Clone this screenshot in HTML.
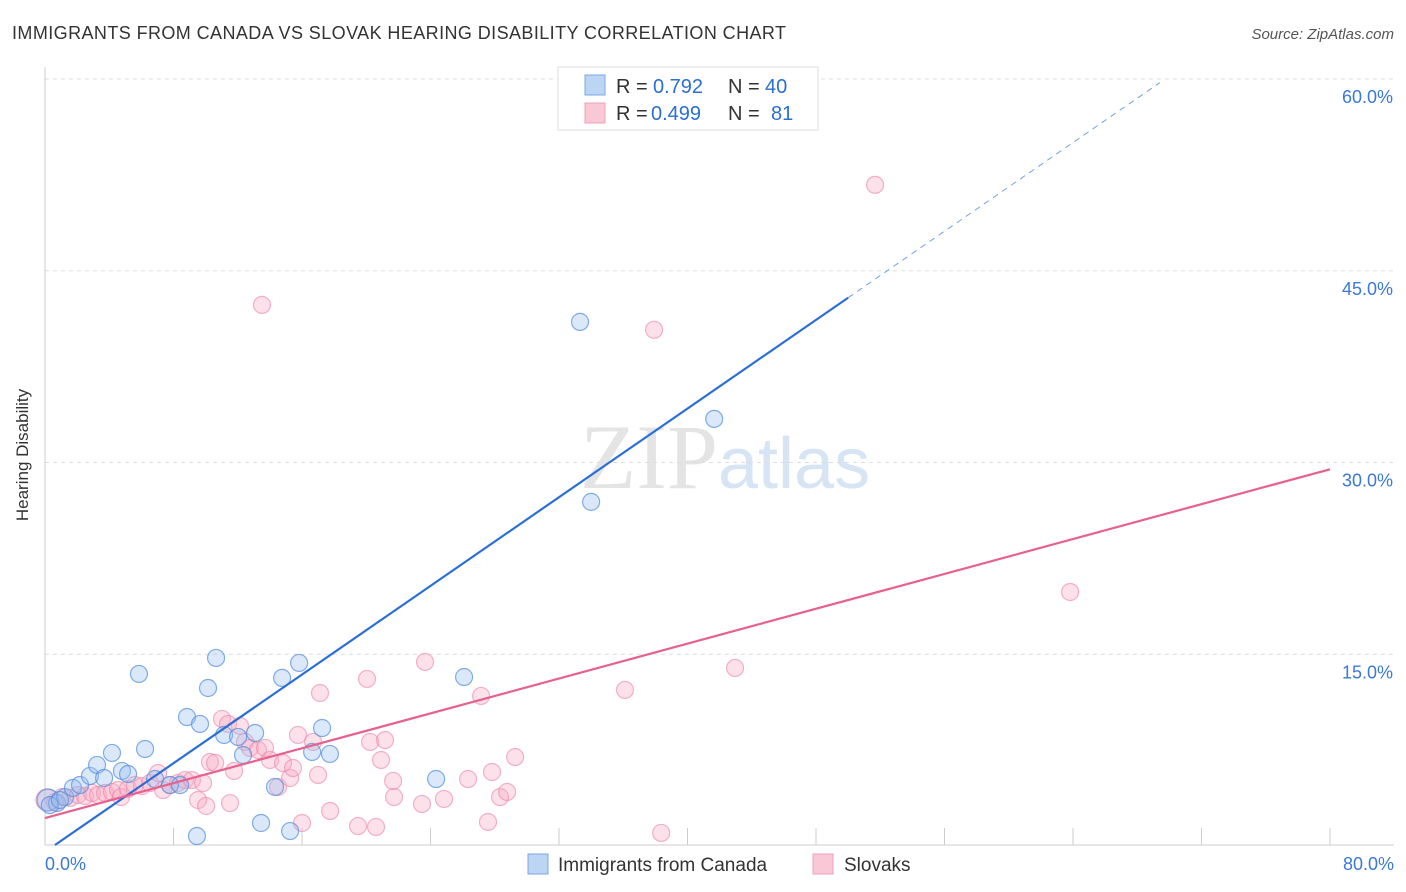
<!DOCTYPE html>
<html><head><meta charset="utf-8"><style>
body{margin:0;background:#fff;font-family:"Liberation Sans",sans-serif;}
svg{display:block}
</style></head><body>
<svg id="chart" width="1406" height="892">
<text x="12" y="39" font-size="18" fill="#333" textLength="774">IMMIGRANTS FROM CANADA VS SLOVAK HEARING DISABILITY CORRELATION CHART</text>
<text x="1394" y="39" font-size="15" fill="#555" text-anchor="end" font-style="italic">Source: ZipAtlas.com</text>
<text x="718" y="488" font-size="92" fill="#e4e4e4" text-anchor="end" font-family="Liberation Serif,serif">ZIP</text>
<text x="718" y="488" font-size="72" fill="#d6e4f4">atlas</text>
<g id="grid"></g>
<line x1="45" y1="67" x2="45" y2="845" stroke="#ccc"/>
<line x1="45" y1="845" x2="1394" y2="845" stroke="#ccc"/>
<text x="28" y="455" font-size="17" fill="#333" text-anchor="middle" transform="rotate(-90 28 455)">Hearing Disability</text>
<g id="pink"></g><g id="blue"></g><g id="lines"></g>
<g>
<rect x="558" y="67" width="260" height="63" fill="#fff" stroke="#ddd"/>
<rect x="585" y="75" width="20" height="20" fill="#bcd5f5" stroke="#7aa8e6"/>
<rect x="585" y="103" width="20" height="20" fill="#f9c8d6" stroke="#f0a0b8"/>
<text x="616" y="93" font-size="20" fill="#333">R =</text>
<text x="653" y="93" font-size="20" fill="#2a6fd6">0.792</text>
<text x="728" y="93" font-size="20" fill="#333">N =</text>
<text x="765" y="93" font-size="20" fill="#2a6fd6">40</text>
<text x="616" y="120" font-size="20" fill="#333">R =</text>
<text x="651" y="120" font-size="20" fill="#2a6fd6">0.499</text>
<text x="728" y="120" font-size="20" fill="#333">N =</text>
<text x="771" y="120" font-size="20" fill="#2a6fd6">81</text>
</g>
<g>
<rect x="528" y="854" width="20" height="20" fill="#bcd5f5" stroke="#7aa8e6"/>
<text x="558" y="871" font-size="19" fill="#333">Immigrants from Canada</text>
<rect x="813" y="854" width="20" height="20" fill="#f9c8d6" stroke="#f0a0b8"/>
<text x="844" y="871" font-size="19" fill="#333">Slovaks</text>
</g>
<text x="45" y="870" font-size="18" fill="#3b78d8">0.0%</text>
<text x="1394" y="870" font-size="18" fill="#3b78d8" text-anchor="end">80.0%</text>
</svg>
<script>
const yTicks=[15,30,45,60];
const yTickLabels=["15.0%","30.0%","45.0%","60.0%"];
const blueX=[0.19,0.75,1.25,1.74,2.18,2.8,3.24,3.68,4.17,4.79,5.17,5.85,6.23,6.85,7.78,8.41,8.84,9.46,9.65,10.15,10.65,11.15,12.02,12.33,13.08,13.45,14.32,14.76,15.26,15.82,16.63,17.25,17.74,24.35,26.09,33.31,34.0,41.66,0.3,0.93];
const blueY=[3.6,3.36,3.83,4.54,4.77,5.48,6.34,5.32,7.28,5.87,5.63,13.46,7.59,5.24,4.77,4.77,10.09,0.78,9.55,12.36,14.71,8.69,8.53,7.12,8.84,1.8,4.62,13.15,1.17,14.32,7.36,9.23,7.2,5.24,13.22,41.0,26.92,33.41,3.2,3.6];
const pinkX=[0.12,0.62,1.06,1.56,2.05,2.49,2.93,3.3,3.74,4.17,4.55,4.73,5.17,5.6,6.04,6.54,7.04,7.35,7.78,8.28,8.72,9.15,9.53,9.84,10.03,10.27,10.59,11.02,11.39,11.52,11.77,12.14,12.45,12.76,13.26,13.51,13.7,14.01,14.51,14.82,15.26,15.44,15.75,16.0,16.69,17.0,17.12,17.75,19.49,20.05,20.24,20.61,20.92,21.17,21.67,21.73,23.47,23.66,24.84,26.34,27.15,27.58,27.83,28.33,28.77,29.27,36.11,37.92,38.36,42.96,51.68,63.82];
const pinkY=[3.6,3.44,3.83,3.76,3.99,3.91,4.15,3.99,4.15,4.23,4.38,3.83,4.46,4.77,4.69,4.93,5.71,4.38,4.77,4.93,5.16,5.16,3.6,4.93,3.13,6.57,6.49,9.94,9.55,3.36,5.87,9.39,8.14,7.67,7.51,42.33,7.67,6.73,4.62,6.49,5.32,6.1,8.69,1.8,8.14,5.56,11.97,2.74,1.56,13.07,8.14,1.49,6.73,8.29,5.09,3.83,3.29,14.4,3.68,5.24,11.74,1.88,5.79,3.83,4.23,6.96,12.21,40.38,1.02,13.93,51.72,19.87];
const blueFit=[0.867,-0.46];
const pinkFit=[0.341,2.19];
const xTicks=[8,16,24,32,40,48,56,64,72,80];

const NS="http://www.w3.org/2000/svg";
const sx=v=>45+v/80*1285;
const sy=v=>846-v/60*767;
function mk(tag,attrs,parent){const e=document.createElementNS(NS,tag);for(const k in attrs)e.setAttribute(k,attrs[k]);parent.appendChild(e);return e;}
const grid=document.getElementById('grid');
yTicks.forEach((t,i)=>{
  const l=mk('line',{x1:45,x2:1394,y1:sy(t),y2:sy(t),stroke:'#ddd','stroke-dasharray':'4 4'},grid);
  
  
  const tx=mk('text',{x:1393,y:sy(t)+24,'font-size':18,fill:'#3b78d8','text-anchor':'end'},grid);
  tx.textContent=yTickLabels[i];
  
  
});
xTicks.forEach(t=>{
  const l=mk('line',{x1:sx(t),x2:sx(t),y1:828,y2:845,stroke:'#ccc'},grid);
  
  
});
const pg=document.getElementById('pink');
pinkX.forEach((x,i)=>{
  const c=mk('circle',{cx:sx(x),cy:sy(pinkY[i]),r:i===0?11:8.5,fill:'rgba(246,170,195,0.35)',stroke:'rgba(236,130,165,0.6)','stroke-width':1.2},pg);
  
  
});
const bg=document.getElementById('blue');
blueX.forEach((x,i)=>{
  const c=mk('circle',{cx:sx(x),cy:sy(blueY[i]),r:i===0?11:8.5,fill:'rgba(150,190,240,0.35)',stroke:'rgba(80,140,220,0.7)','stroke-width':1.2},bg);
  
  
});
const lg=document.getElementById('lines');
const bx0=0.62,bx1=50,bx2=69.4;
let l1=mk('line',{x1:sx(bx0),y1:sy(blueFit[0]*bx0+blueFit[1]),x2:sx(bx1),y2:sy(blueFit[0]*bx1+blueFit[1]),stroke:'#2a6fd6','stroke-width':2.2},lg);


let l2=mk('line',{x1:sx(bx1),y1:sy(blueFit[0]*bx1+blueFit[1]),x2:sx(bx2),y2:sy(blueFit[0]*bx2+blueFit[1]),stroke:'#6fa0e0','stroke-width':1,'stroke-dasharray':'6 5'},lg);


let l3=mk('line',{x1:sx(0),y1:sy(pinkFit[1]),x2:sx(80),y2:sy(pinkFit[0]*80+pinkFit[1]),stroke:'#e8608c','stroke-width':2.2},lg);


</script>
</body></html>
